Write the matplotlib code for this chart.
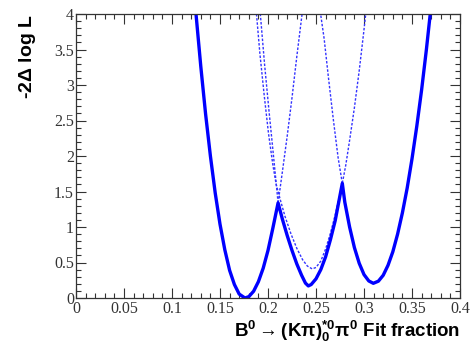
import matplotlib
matplotlib.use("Agg")
import matplotlib.pyplot as plt
from matplotlib.ticker import MultipleLocator, FixedLocator, FixedFormatter

# ---- data ----
# solid envelope (-2 Delta log L)
solid_x = [0.125, 0.130, 0.135, 0.140, 0.145, 0.150, 0.155, 0.160, 0.165, 0.170, 0.176,
           0.180, 0.185, 0.190, 0.195, 0.200, 0.205, 0.2105,
           0.215, 0.220, 0.225, 0.230, 0.235, 0.239, 0.242,
           0.245, 0.250, 0.255, 0.260, 0.265, 0.270, 0.2774,
           0.280, 0.285, 0.290, 0.295, 0.300, 0.305, 0.3097,
           0.315, 0.320, 0.325, 0.330, 0.335, 0.340, 0.345, 0.350, 0.355, 0.360, 0.365, 0.369]
solid_y = [4.00, 3.26, 2.59, 2.00, 1.48, 1.04, 0.68, 0.39, 0.19, 0.055, 0.00,
           0.019, 0.095, 0.23, 0.42, 0.67, 0.98, 1.34,
           1.11, 0.88, 0.67, 0.48, 0.32, 0.21, 0.17,
           0.19, 0.27, 0.40, 0.58, 0.82, 1.09, 1.615,
           1.35, 1.00, 0.71, 0.49, 0.33, 0.24, 0.207,
           0.237, 0.32, 0.46, 0.65, 0.90, 1.20, 1.55, 1.96, 2.42, 2.93, 3.50, 4.00]

# dashed: other local solutions
dashA_x = [0.2105, 0.215, 0.220, 0.225, 0.230, 0.2355]
dashA_y = [1.34, 1.78, 2.28, 2.82, 3.40, 4.00]

dashB_x = [0.2105, 0.2085, 0.205, 0.201, 0.1965, 0.192]
dashB_y = [1.34, 1.62, 2.10, 2.64, 3.28, 4.00]

dashC_x = [0.2774, 0.273, 0.268, 0.263, 0.2585, 0.2548]
dashC_y = [1.615, 1.98, 2.52, 3.10, 3.65, 4.00]

dashD_x = [0.188, 0.1915, 0.196, 0.2005, 0.205, 0.2085, 0.2137, 0.2177, 0.224, 0.230, 0.236,
           0.241, 0.246, 0.250, 0.255, 0.260, 0.265, 0.270, 0.2774,
           0.281, 0.285, 0.290, 0.295, 0.2995, 0.3018]
dashD_y = [4.00, 3.45, 2.86, 2.32, 1.88, 1.60, 1.34, 1.15, 0.90, 0.70, 0.54,
           0.45, 0.41, 0.43, 0.52, 0.69, 0.91, 1.17, 1.615,
           1.87, 2.22, 2.68, 3.20, 3.72, 4.00]

x_ticks = [0, 0.05, 0.1, 0.15, 0.2, 0.25, 0.3, 0.35, 0.4]
x_ticklabels = ["0", "0.05", "0.1", "0.15", "0.2", "0.25", "0.3", "0.35", "0.4"]
y_ticks = [0, 0.5, 1, 1.5, 2, 2.5, 3, 3.5, 4]
y_ticklabels = ["0", "0.5", "1", "1.5", "2", "2.5", "3", "3.5", "4"]

plt.rcParams['mathtext.fontset'] = 'custom'
plt.rcParams['mathtext.rm'] = 'Liberation Sans:bold'
plt.rcParams['mathtext.it'] = 'Liberation Sans:bold'
plt.rcParams['mathtext.bf'] = 'Liberation Sans:bold'
plt.rcParams['mathtext.sf'] = 'Liberation Sans:bold'

fig = plt.figure(figsize=(4.72, 3.5), dpi=100)
ax = fig.add_axes([76/472, 52/350, 384/472, 284/350])

blue = (0, 0, 1)
dash_style = dict(color=(0.2, 0.2, 1.0), lw=1.0, linestyle=(0, (1.8, 1.2)))
for xs, ys in [(dashA_x, dashA_y), (dashB_x, dashB_y), (dashC_x, dashC_y), (dashD_x, dashD_y)]:
    ax.plot(xs, ys, **dash_style)
ax.plot(solid_x, solid_y, color=blue, lw=2.4, solid_joinstyle='round', solid_capstyle='round')

ax.set_xlim(0, 0.4)
ax.set_ylim(0, 4)
ax.xaxis.set_major_locator(FixedLocator(x_ticks))
ax.xaxis.set_major_formatter(FixedFormatter(x_ticklabels))
ax.yaxis.set_major_locator(FixedLocator(y_ticks))
ax.yaxis.set_major_formatter(FixedFormatter(y_ticklabels))
ax.xaxis.set_minor_locator(MultipleLocator(0.01))
ax.yaxis.set_minor_locator(MultipleLocator(0.1))
ax.tick_params(which='both', direction='in', top=True, right=True, width=0.8, color='#333333')
ax.tick_params(which='major', length=7)
ax.tick_params(which='minor', length=3.5)
ax.tick_params(axis='x', which='major', pad=2.5)
ax.tick_params(axis='y', which='major', pad=1.5)
for lab in ax.get_xticklabels() + ax.get_yticklabels():
    lab.set_fontfamily('Liberation Serif')
    lab.set_fontsize(11.5)
    lab.set_color('#333333')
for s in ax.spines.values():
    s.set_linewidth(0.9)
    s.set_color('#333333')

fig.text(27/472, 1 - 14/350, '-2$\\Delta$ log L', rotation=90, ha='center', va='top',
         fontsize=14, fontweight='bold', family='Liberation Sans')
fig.text(460/472, 1 - 337/350,
         r'B$^{0}\rightarrow$(K$\pi$)$^{*0}_{0}$$\pi^{0}$ Fit fraction',
         ha='right', va='baseline', fontsize=13.5, fontweight='bold', family='Liberation Sans')

fig.savefig('out.png', dpi=100)
